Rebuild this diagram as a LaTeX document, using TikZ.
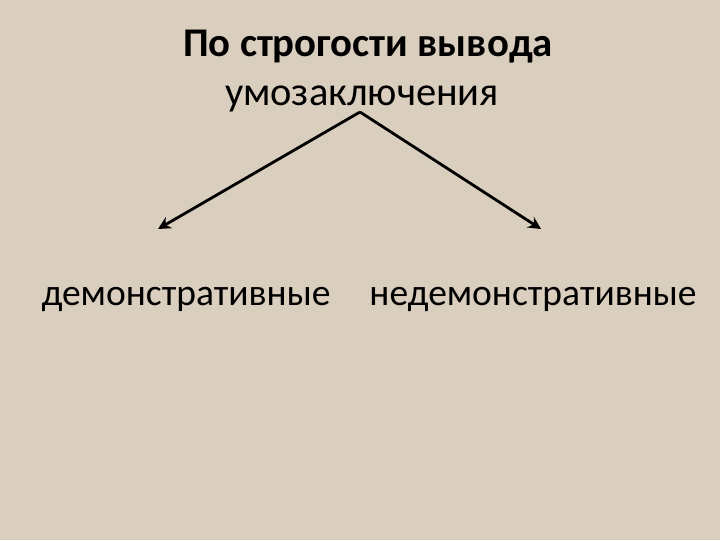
\documentclass[tikz,border=0pt]{standalone}
\usepackage{fontspec}
\setmainfont{Carlito}
\usetikzlibrary{arrows.meta}

\definecolor{paper}{RGB}{218,207,190}

\begin{document}
\begin{tikzpicture}[x=0.025cm,y=-0.025cm,
  head/.style={font=\fontsize{29}{32}\selectfont\bfseries},
  sub/.style={font=\fontsize{28.8}{32}\selectfont},
  kind/.style={font=\fontsize{26.7}{30}\selectfont},
  branch/.style={line width=2pt,-{Stealth[length=9pt,width=9pt]}}]
  \fill[paper] (0,0) rectangle (720,540);
  \useasboundingbox (0,0) rectangle (720,540);

  \node[head] (title) at (368,47) {По строгости вывода};
  \node[sub] (conc) at (362,99) {умозаключения};
  \coordinate (apex) at (360,112);

  \node[kind] (demo) at (186,299) {демонстративные};
  \node[kind] (nondemo) at (533,299) {недемонстративные};

  \coordinate (lend) at (158,229);
  \coordinate (rend) at (541,229);

  \draw[branch] (apex) -- (lend);
  \draw[branch] (apex) -- (rend);
\end{tikzpicture}
\end{document}
